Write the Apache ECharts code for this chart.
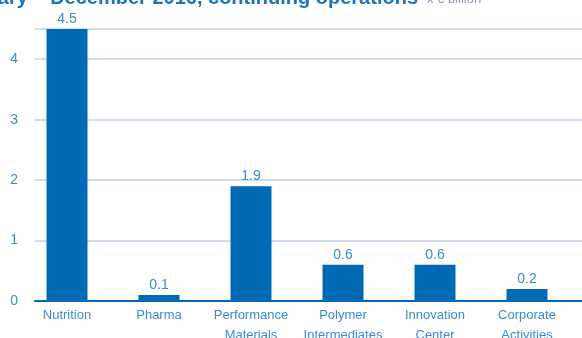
<!DOCTYPE html>
<html><head><meta charset="utf-8">
<script src="https://cdn.jsdelivr.net/npm/echarts@6/dist/echarts.min.js"></script>
<style>html,body{margin:0;padding:0;background:#fff}#c{width:582px;height:338px}</style>
</head><body><div id="c"></div>
<script>
var categories = ['Nutrition', 'Pharma', 'Performance\nMaterials', 'Polymer\nIntermediates', 'Innovation\nCenter', 'Corporate\nActivities'];
var values = [4.5, 0.1, 1.9, 0.6, 0.6, 0.2];
var yTicks = [0, 1, 2, 3, 4];
var titleText = 'Sales January – December 2016, continuing operations';
var unitText = 'x € billion';

var blue = '#006ab4';
var labelBlue = '#3d8bd0';
var chart = echarts.init(document.getElementById('c'), null, {renderer: 'canvas'});
chart.setOption({
  animation: false,
  textStyle: {fontFamily: 'Liberation Sans'},
  grid: [
    {left: 21, right: 9, top: 29, bottom: 37, containLabel: false, outerBoundsMode: 'none'},
    {left: 35, right: -20, top: 29, bottom: 37, containLabel: false, outerBoundsMode: 'none'}
  ],
  graphic: [
    {type: 'text', right: 164, top: -12, style: {text: titleText, fill: '#1a74bd', font: 'bold 20px "Liberation Sans"', textAlign: 'right'}},
    {type: 'text', left: 427, top: -7, style: {text: unitText, fill: '#8a9bb0', font: '13px "Liberation Sans"'}}
  ],
  xAxis: [
    {type: 'category', gridIndex: 0, data: categories, axisLine: {show: false}, axisTick: {show: false},
     axisLabel: {color: labelBlue, fontSize: 13, lineHeight: 20, margin: 4, interval: 0}},
    {type: 'category', gridIndex: 1, data: [''], axisLine: {show: true, lineStyle: {color: blue, width: 2}}, axisTick: {show: false}, axisLabel: {show: false}}
  ],
  yAxis: [
    {type: 'value', gridIndex: 0, min: 0, max: 4.5, show: false, splitLine: {show: false}},
    {type: 'value', gridIndex: 1, min: 0, max: 4.5, interval: 1, axisLine: {show: false}, axisTick: {show: false},
     axisLabel: {color: labelBlue, fontSize: 14, margin: 17, formatter: function (v) { return yTicks.indexOf(v) >= 0 ? String(v) : ''; }},
     splitLine: {lineStyle: {color: '#cfdcef', width: 2}}}
  ],
  series: [{
    type: 'bar', xAxisIndex: 0, yAxisIndex: 0, data: values, barWidth: 41,
    itemStyle: {color: blue},
    label: {show: true, position: 'top', color: labelBlue, fontSize: 14, distance: 3, formatter: function (p) { return p.value.toFixed(1); }},
    z: 5
  }]
});
</script></body></html>
